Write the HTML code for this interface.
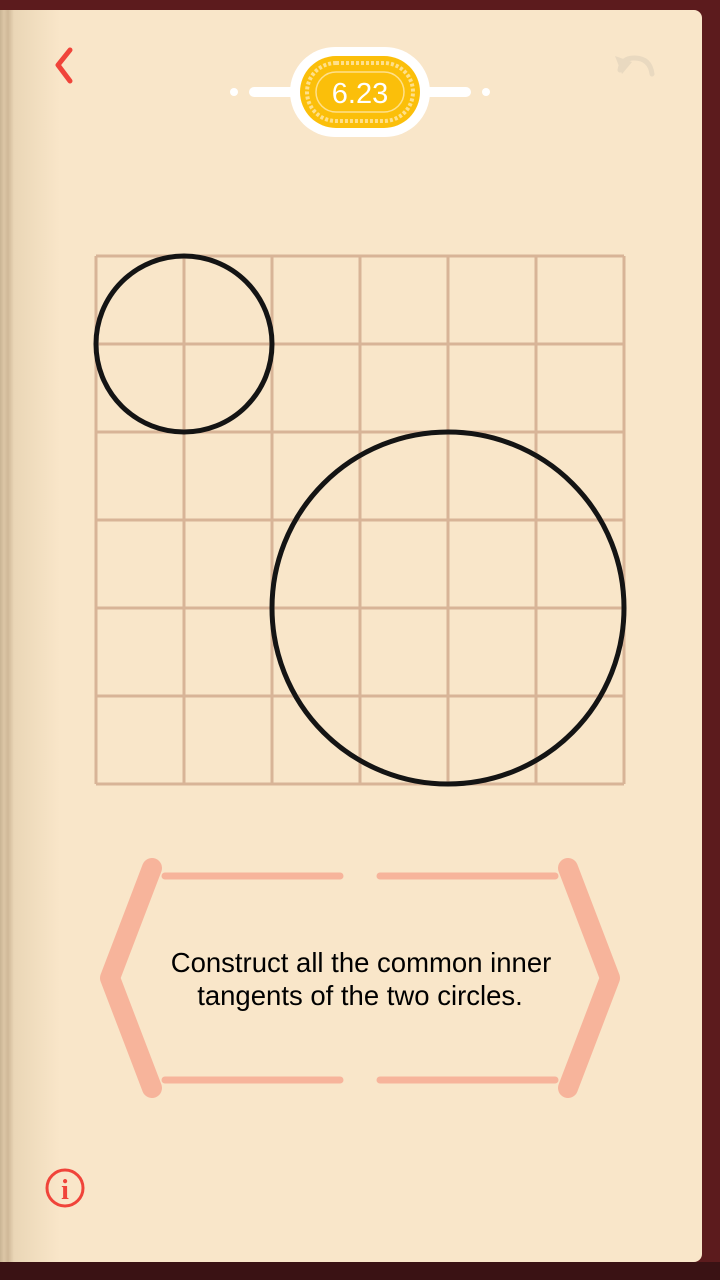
<!DOCTYPE html>
<html><head><meta charset="utf-8"><style>
html,body{margin:0;padding:0;width:720px;height:1280px;overflow:hidden;background:#5c1b1d;font-family:"Liberation Sans",sans-serif}
#page{position:absolute;left:0;top:10px;width:702px;height:1252px;background:#f9e6c9;border-radius:0 8px 8px 0;
background-image:linear-gradient(90deg,#c9b494 0,#dcc6a6 4px,#cfb898 8px,#ead6b6 14px,#f9e6c9 60px)}
#bottom{position:absolute;left:0;top:1262px;width:720px;height:18px;background:#3a1214}
</style></head><body>
<div id="page"></div>
<div id="bottom"></div>
<svg width="720" height="1280" style="position:absolute;left:0;top:0">
<path d="M70 50 L58 65 L70 81" stroke="#f0443a" stroke-width="5" fill="none" stroke-linecap="round" stroke-linejoin="round"/>
<path d="M620 70 Q622 58 634 58 Q650 58 652 74" stroke="#e9d9c0" stroke-width="5" fill="none" stroke-linecap="round"/>
<path d="M615 56 L622 74 L632 62 Z" fill="#e9d9c0"/>
<circle cx="234" cy="92" r="4" fill="#fff"/><circle cx="486" cy="92" r="4" fill="#fff"/>
<line x1="254" y1="92" x2="466" y2="92" stroke="#fff" stroke-width="10" stroke-linecap="round"/>
<rect x="290" y="47" width="140" height="90" rx="45" fill="#fff"/>
<rect x="300" y="56" width="120" height="72" rx="36" fill="#fbbf0a"/>
<rect x="307" y="63" width="106" height="58" rx="29" fill="none" stroke="#ffe08a" stroke-width="4" stroke-dasharray="3 2"/>
<rect x="316" y="72" width="88" height="40" rx="20" fill="none" stroke="#ffe08a" stroke-width="1.5"/>
<text x="360" y="103" text-anchor="middle" font-size="29" fill="#fff" font-family="Liberation Sans,sans-serif">6.23</text>
<g id="grid"></g>
<g id="circles"></g>
<g fill="none" stroke="#f7b49b" stroke-linecap="round">
<line x1="165" y1="876" x2="340" y2="876" stroke-width="7"/><line x1="380" y1="876" x2="555" y2="876" stroke-width="7"/>
<line x1="165" y1="1080" x2="340" y2="1080" stroke-width="7"/><line x1="380" y1="1080" x2="555" y2="1080" stroke-width="7"/>
<path d="M152 868 L110 978 L152 1088" stroke-width="20" stroke-linejoin="round"/>
<path d="M568 868 L610 978 L568 1088" stroke-width="20" stroke-linejoin="round"/>
</g>
<text x="361" y="972" text-anchor="middle" font-size="27.5" fill="#000"><tspan x="361">Construct all the common inner</tspan><tspan x="360" dy="33">tangents of the two circles.</tspan></text>
<g>
<ellipse cx="65" cy="1188" rx="18" ry="18" fill="none" stroke="#f0443a" stroke-width="3"/>
<text x="65" y="1199" text-anchor="middle" font-size="28" font-weight="bold" fill="#f0443a" font-family="Liberation Serif,serif">i</text>
</g>
</svg>
<script>
const gridCols=[0,1,2,3,4,5,6];
const circleCx=[1,4];
const circleCy=[1,4];
const circleR=[1,2];
const X=v=>96+v*88, Y=v=>256+v*88;
const ns="http://www.w3.org/2000/svg";
const g=document.getElementById('grid');
gridCols.forEach(i=>{
 const a=document.createElementNS(ns,'line');
 a.setAttribute('x1',X(i));a.setAttribute('x2',X(i));a.setAttribute('y1',Y(0));a.setAttribute('y2',Y(6));
 a.setAttribute('stroke','#d8b497');a.setAttribute('stroke-width','3');
 
 
 g.appendChild(a);
 const b=document.createElementNS(ns,'line');
 b.setAttribute('y1',Y(i));b.setAttribute('y2',Y(i));b.setAttribute('x1',X(0));b.setAttribute('x2',X(6));
 b.setAttribute('stroke','#d8b497');b.setAttribute('stroke-width','3');
 
 
 g.appendChild(b);
});
const cg=document.getElementById('circles');
circleCx.forEach((c,i)=>{
 const e=document.createElementNS(ns,'circle');
 e.setAttribute('cx',X(c));e.setAttribute('cy',Y(circleCy[i]));e.setAttribute('r',circleR[i]*88);
 e.setAttribute('fill','none');e.setAttribute('stroke','#141414');e.setAttribute('stroke-width','5');
 
 
 cg.appendChild(e);
});
</script>
</body></html>
